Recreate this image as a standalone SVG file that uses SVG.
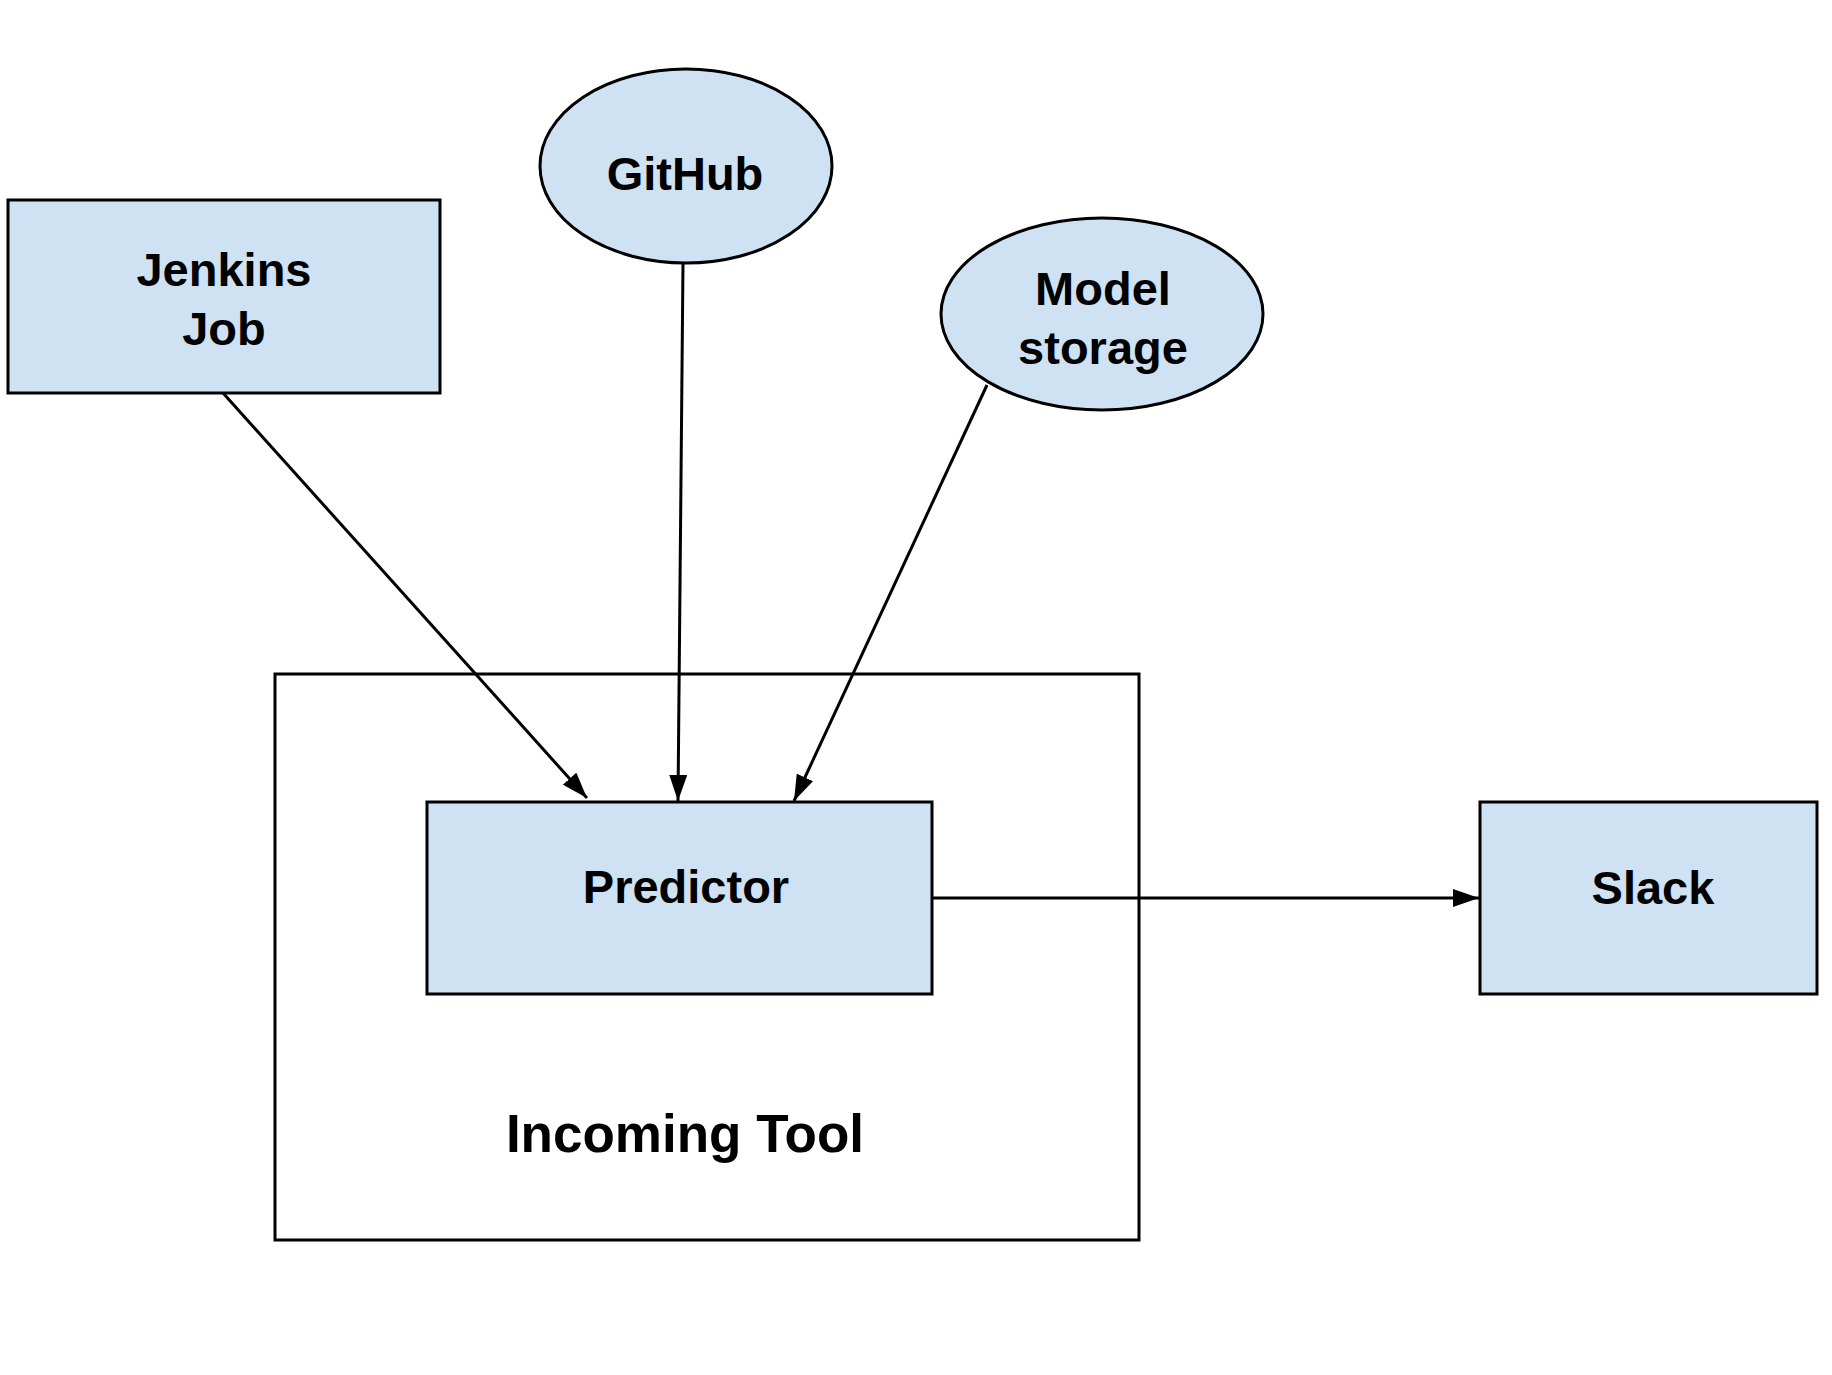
<svg xmlns="http://www.w3.org/2000/svg" width="1832" height="1375" viewBox="0 0 1832 1375">
<style>
.node{fill:#cfe2f3;stroke:#000;stroke-width:3}
.frame{fill:none;stroke:#000;stroke-width:3}
.lbl{font-family:"Liberation Sans",Arial,sans-serif;font-weight:bold;font-size:47px;fill:#000;text-anchor:middle}
.big{font-size:53px}
.edge{fill:none;stroke:#000;stroke-width:3}
</style>
<defs>
<marker id="arrow" markerUnits="userSpaceOnUse" markerWidth="26" markerHeight="18" refX="26" refY="9" orient="auto">
<path d="M0,0 L26,9 L0,18 z" fill="#000"/>
</marker>
</defs>
<rect width="1832" height="1375" fill="#fff"/>
<g id="incoming-tool">
<rect class="frame" x="275" y="674" width="864" height="566"/>
<text class="lbl big" x="685" y="1152">Incoming Tool</text>
</g>
<g id="jenkins-job">
<rect class="node" x="8" y="200" width="432" height="193"/>
<text class="lbl" x="224" y="286">Jenkins</text>
<text class="lbl" x="224" y="345">Job</text>
</g>
<g id="github">
<ellipse class="node" cx="686" cy="166" rx="146" ry="97"/>
<text class="lbl" x="685" y="190">GitHub</text>
</g>
<g id="model-storage">
<ellipse class="node" cx="1102" cy="314" rx="161" ry="96"/>
<text class="lbl" x="1103" y="305">Model</text>
<text class="lbl" x="1103" y="364">storage</text>
</g>
<g id="predictor">
<rect class="node" x="427" y="802" width="505" height="192"/>
<text class="lbl" x="686" y="903">Predictor</text>
</g>
<g id="slack">
<rect class="node" x="1480" y="802" width="337" height="192"/>
<text class="lbl" x="1653" y="904">Slack</text>
</g>
<g id="connectors">
<line class="edge" x1="223" y1="393" x2="587" y2="798" marker-end="url(#arrow)"/>
<line class="edge" x1="683" y1="263" x2="678" y2="801" marker-end="url(#arrow)"/>
<line class="edge" x1="987" y1="385" x2="794" y2="801" marker-end="url(#arrow)"/>
<line class="edge" x1="932" y1="898" x2="1479" y2="898" marker-end="url(#arrow)"/>
</g>
</svg>
